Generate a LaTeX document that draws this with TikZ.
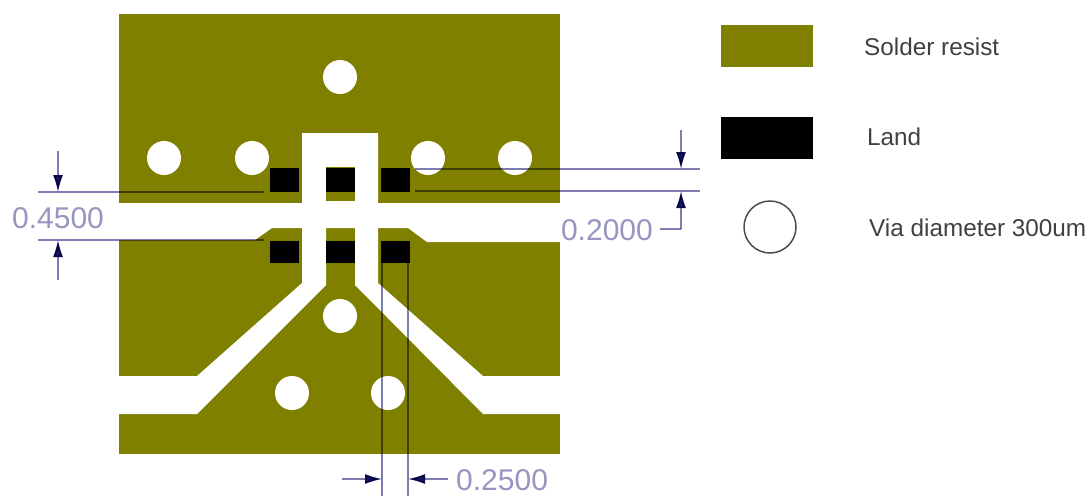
\documentclass[tikz,border=0pt]{standalone}
\usepackage{fontspec}
\setmainfont{Liberation Sans}
\usetikzlibrary{arrows.meta}
\definecolor{resist}{RGB}{128,128,0}
\definecolor{dimline}{RGB}{125,125,180}
\definecolor{dimtext}{RGB}{150,150,192}
\definecolor{dimtip}{RGB}{20,20,100}
\begin{document}
\begin{tikzpicture}
		[x=1pt, y=-1pt,
		via/.style = {circle, fill=white, inner sep=0pt, minimum size=34pt},
		land/.style = {fill=black, inner sep=0pt, minimum width=29pt},
		swatch/.style = {inner sep=0pt, minimum width=92pt, minimum height=42pt},
		dim/.style = {draw=dimline, line width=1.5pt, blend mode=multiply},
		dimarrow/.style = {dim, -{Latex[length=17pt, width=10pt, color=dimtip]}},
		dimlabel/.style = {text=dimtext, font=\fontsize{30}{30}\selectfont, inner sep=0pt},
		legend/.style = {anchor=west, inner sep=0pt, text=black!75, font=\fontsize{24.3}{24.3}\selectfont}]
	\useasboundingbox (0,0) rectangle (1091,496);
	% board
	\fill[resist] (119,14) rectangle (560,454);
	% open areas of the resist
	\fill[white] (302,133) -- (378,133) -- (378,203) -- (560,203) -- (560,242) -- (427,242)
		-- (408,228) -- (378,228) -- (378,283) -- (483,376) -- (560,376) -- (560,414)
		-- (483,414) -- (355,285) -- (355,228) -- (326,228) -- (326,285) -- (197,414)
		-- (119,414) -- (119,376) -- (197,376) -- (302,283) -- (302,228) -- (272,228)
		-- (255,240) -- (119,240) -- (119,203) -- (302,203) -- cycle;
	\fill[resist] (326,167) rectangle (355,201);
	% lands
	\node[land, minimum height=24pt] (l1) at (284.5,180) {};
	\node[land, minimum height=24pt] (l2) at (340.5,180) {};
	\node[land, minimum height=24pt] (l3) at (395,180) {};
	\node[land, minimum height=22pt] (l4) at (284.5,252) {};
	\node[land, minimum height=22pt] (l5) at (340.5,252) {};
	\node[land, minimum height=22pt] (l6) at (395,252) {};
	% vias
	\node[via] (v1) at (340,77) {};
	\node[via] (v2) at (164,158) {};
	\node[via] (v3) at (252,158) {};
	\node[via] (v4) at (428,158) {};
	\node[via] (v5) at (515,158) {};
	\node[via] (v6) at (340,316) {};
	\node[via] (v7) at (292,393) {};
	\node[via] (v8) at (388,393) {};
	% 0.4500
	\coordinate (a1) at (38,192);
	\coordinate (a2) at (264,192);
	\coordinate (a3) at (38,240);
	\coordinate (a4) at (264,240);
	\coordinate (a5) at (58,151);
	\coordinate (a6) at (58,192);
	\coordinate (a7) at (58,280);
	\coordinate (a8) at (58,240);
	\draw[dim] (a1) -- (a2);
	\draw[dim] (a3) -- (a4);
	\draw[dimarrow] (a5) -- (a6);
	\draw[dimarrow] (a7) -- (a8);
	\node[dimlabel] (t1) at (58,218) {0.4500};
	% 0.2000
	\coordinate (b1) at (415,169);
	\coordinate (b2) at (700,169);
	\coordinate (b3) at (415,191);
	\coordinate (b4) at (700,191);
	\coordinate (b5) at (681,130);
	\coordinate (b6) at (681,169);
	\coordinate (b7) at (681,229);
	\coordinate (b8) at (681,191);
	\draw[dim] (b1) -- (b2);
	\draw[dim] (b3) -- (b4);
	\draw[dimarrow] (b5) -- (b6);
	\node[dimlabel, anchor=east] (t2) at (653,230) {0.2000};
	\draw[dim] (t2.east) ++(7,-1) coordinate (b9) (b9) -- (b7);
	\draw[dimarrow] (b7) -- (b8);
	% 0.2500
	\coordinate (c1) at (382,243);
	\coordinate (c2) at (382,496);
	\coordinate (c3) at (408,243);
	\coordinate (c4) at (408,496);
	\coordinate (c5) at (342,479);
	\coordinate (c6) at (382,479);
	\coordinate (c7) at (448,479);
	\coordinate (c8) at (408,479);
	\draw[dim] (c1) -- (c2);
	\draw[dim] (c3) -- (c4);
	\draw[dimarrow] (c5) -- (c6);
	\draw[dimarrow] (c7) -- (c8);
	\node[dimlabel, anchor=west] (t3) at (456,480) {0.2500};
	% legend
	\node[swatch, fill=resist] (s1) at (767,46) {};
	\node[swatch, fill=black] (s2) at (767,138) {};
	\node[circle, draw=black!70, line width=1.5pt, fill=white, minimum size=52pt, inner sep=0pt] (s3) at (770,227) {};
	\node[legend] (n1) at (864,47) {Solder resist};
	\node[legend] (n2) at (867,137) {Land};
	\node[legend] (n3) at (869,228) {Via diameter 300um};
\end{tikzpicture}
\end{document}
